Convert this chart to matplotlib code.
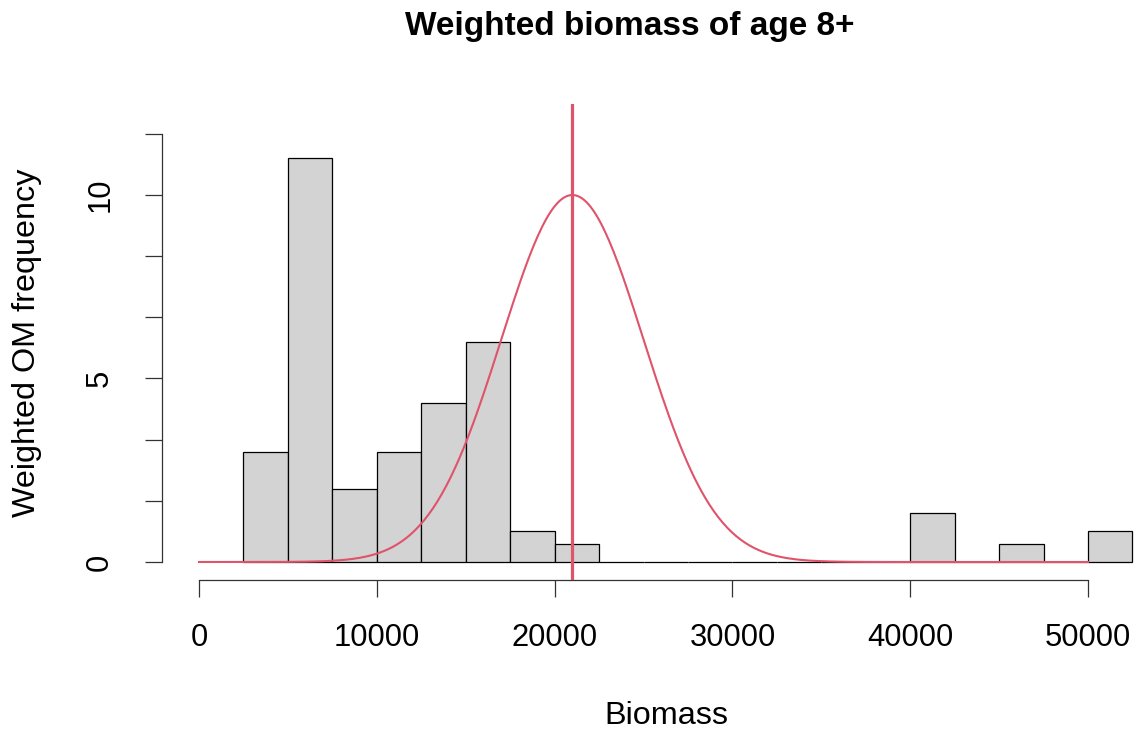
import numpy as np
import matplotlib.pyplot as plt

# histogram bins (left edges) and weighted heights
bin_left = [2500, 5000, 7500, 10000, 12500, 15000, 17500, 20000, 22500, 25000,
            27500, 30000, 32500, 35000, 37500, 40000, 42500, 45000, 47500, 50000]
heights = [3.0, 11.0, 2.0, 3.0, 4.33, 6.0, 0.84, 0.5, 0, 0,
           0, 0, 0, 0, 0, 1.33, 0, 0.5, 0, 0.84]
bin_width = 2500

# fitted normal curve overlay
curve_mean = 21000
curve_sd = 4000
curve_peak = 10.0
vline_x = 21000

x_ticks = [0, 10000, 20000, 30000, 40000, 50000]
y_ticks = [0, 5 / 3, 10 / 3, 5, 20 / 3, 25 / 3, 10, 35 / 3]
y_labels = ["0", "", "", "5", "", "", "10", ""]

red = "#DF536B"
W, H = 1139, 737

plt.rcParams['font.family'] = ['Liberation Sans', 'DejaVu Sans']
fig = plt.figure(figsize=(W / 100, H / 100), dpi=100)

# axes placed in pixels so the data scale lines up with the reference
xlim = (-2100, 54600)
ylim = (-0.48, 12.48)
px_left, px_right = 161.7, 1169.8
px_top, px_bottom = 104.0, 579.6
ax = fig.add_axes([px_left / W, 1 - px_bottom / H,
                   (px_right - px_left) / W, (px_bottom - px_top) / H])
ax.set_xlim(*xlim)
ax.set_ylim(*ylim)

ax.bar(bin_left, heights, width=bin_width, align='edge',
       color='#D3D3D3', edgecolor='black', linewidth=0.9, zorder=2)

xs = np.linspace(0, 50000, 400)
ys = curve_peak * np.exp(-0.5 * ((xs - curve_mean) / curve_sd) ** 2)
ax.plot(xs, ys, color=red, linewidth=1.5, zorder=3)
ax.axvline(vline_x, color=red, linewidth=2.3, zorder=4)

for side in ['top', 'right']:
    ax.spines[side].set_visible(False)
ax.spines['left'].set_bounds(0, 35 / 3)
ax.spines['bottom'].set_bounds(0, 50000)
for side in ['left', 'bottom']:
    ax.spines[side].set_linewidth(0.9)
    ax.spines[side].set_color('#333333')

ax.set_xticks(x_ticks)
ax.set_xticklabels([str(t) for t in x_ticks])
ax.set_yticks(y_ticks)
ax.set_yticklabels(y_labels, rotation=90, va='center')
ax.tick_params(axis='x', length=12, width=0.9, color='#333333',
               labelsize=22.3, pad=19.5)
ax.tick_params(axis='y', length=12, width=0.9, color='#333333',
               labelsize=22.3, pad=21.5)

fig.text(630 / W, 1 - 27 / H, "Weighted biomass of age 8+",
         ha='center', va='center', fontsize=24, fontweight='bold')
fig.text(666 / W, 1 - 716 / H, "Biomass", ha='center', va='center',
         fontsize=23.3)
fig.text(27 / W, 1 - 343 / H, "Weighted OM frequency", ha='center',
         va='center', rotation=90, fontsize=23.3)

fig.savefig('out.png', dpi=100)
